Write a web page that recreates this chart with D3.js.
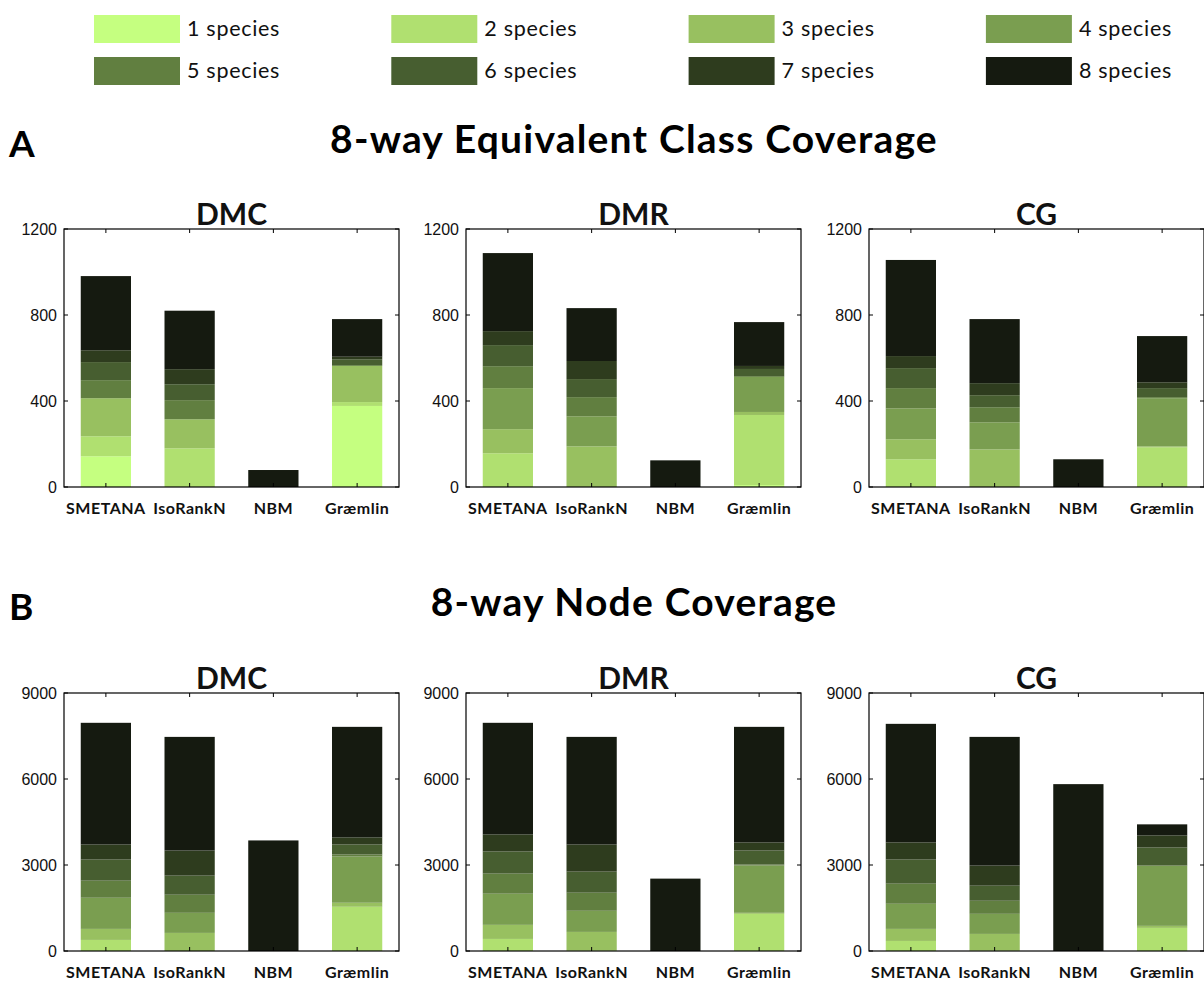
<!DOCTYPE html>
<html>
<head>
<meta charset="utf-8">
<script src="https://cdn.jsdelivr.net/npm/d3@7"></script>
<style>
  body { margin: 0; background: #fff; }
  svg { display: block; }
</style>
</head>
<body>
<svg id="chart" width="1204" height="981"></svg>
<script>
// Aligners compared and the species-count classes stacked in each bar
const methods = ["SMETANA", "IsoRankN", "NBM", "Græmlin"];
const speciesLabels = ["1 species", "2 species", "3 species", "4 species",
                       "5 species", "6 species", "7 species", "8 species"];
const speciesColors = ["#c5ff80", "#b0e070", "#98c060", "#7a9e50",
                       "#617f40", "#475e30", "#2e3c1e", "#151a10"];

// Equivalence classes covering k species (rows follow `methods`, columns k = 1..8)
const classDMC = [
  [143, 93, 177, 0, 84, 84, 55, 345],
  [0, 180, 135, 0, 89, 74, 70, 272],
  [0, 0, 0, 0, 0, 0, 0, 79],
  [377, 18, 168, 0, 4, 27, 12, 175]
];
const classDMR = [
  [0, 157, 112, 191, 102, 98, 65, 363],
  [0, 0, 189, 140, 89, 84, 84, 246],
  [0, 0, 0, 0, 0, 0, 0, 124],
  [9, 326, 14, 163, 4, 33, 14, 204]
];
const classCG = [
  [0, 129, 93, 144, 94, 93, 56, 447],
  [0, 0, 175, 126, 70, 56, 56, 298],
  [0, 0, 0, 0, 0, 0, 0, 129],
  [0, 185, 4, 224, 5, 42, 27, 215]
];

// Nodes covered by classes with k species
const nodeDMC = [
  [0, 386, 385, 1087, 596, 737, 526, 4243],
  [0, 0, 631, 701, 632, 666, 876, 3963],
  [0, 0, 0, 0, 0, 0, 0, 3857],
  [0, 1543, 140, 1613, 70, 351, 245, 3857]
];
const nodeDMR = [
  [0, 421, 491, 1087, 701, 771, 596, 3893],
  [0, 25, 641, 737, 631, 736, 947, 3752],
  [0, 0, 0, 0, 0, 0, 0, 2525],
  [0, 1297, 35, 1648, 35, 491, 281, 4032]
];
const nodeCG = [
  [0, 351, 420, 877, 701, 842, 596, 4137],
  [0, 25, 571, 701, 456, 526, 701, 4489],
  [0, 0, 0, 0, 0, 0, 0, 5821],
  [0, 806, 71, 2103, 0, 632, 420, 386]
];

const classTicks = [0, 400, 800, 1200];
const nodeTicks = [0, 3000, 6000, 9000];
const panelTitles = ["DMC", "DMR", "CG"];

const svg = d3.select("#chart");
const labelFont = "Lato, 'DejaVu Sans', sans-serif";
const tickFont = "'Liberation Sans', Arial, sans-serif";

// ---- legend ----
const legend = svg.append("g");
speciesLabels.forEach((lab, i) => {
  const col = i % 4, row = Math.floor(i / 4);
  const x = 94 + col * 297.3, y = 15 + row * 42;
  legend.append("rect")
    .attr("x", x).attr("y", y).attr("width", 86).attr("height", 28)
    .attr("fill", speciesColors[i]);
  legend.append("text")
    .attr("x", x + 93).attr("y", y + 21)
    .attr("font-family", labelFont).attr("font-size", 21.5)
    .attr("letter-spacing", 0.7)
    .attr("fill", "#111").text(lab);
});

// ---- section headers ----
function sectionHeader(letter, title, baseline) {
  svg.append("text").attr("x", 9).attr("y", baseline + 4)
    .attr("font-family", labelFont).attr("font-weight", "bold")
    .attr("font-size", 37).text(letter);
  svg.append("text").attr("x", 634).attr("y", baseline)
    .attr("text-anchor", "middle")
    .attr("font-family", labelFont).attr("font-weight", "bold")
    .attr("font-size", 39).attr("letter-spacing", 1.2).text(title);
}
sectionHeader("A", "8-way Equivalent Class Coverage", 153);
sectionHeader("B", "8-way Node Coverage", 616);

// ---- one stacked-bar panel ----
const panelLefts = [64, 466, 869];
const panelW = 335, panelH = 258;

function drawPanel(left, top, title, data, ticks) {
  const g = svg.append("g").attr("transform", `translate(${left},${top})`);
  const x = d3.scaleBand().domain(methods).range([0, panelW]).paddingInner(0.4).paddingOuter(0.2);
  const y = d3.scaleLinear().domain([0, ticks[ticks.length - 1]]).range([panelH, 0]);

  const rows = methods.map((m, i) => {
    const r = { method: m };
    speciesLabels.forEach((s, k) => { r[s] = data[i][k]; });
    return r;
  });
  const series = d3.stack().keys(speciesLabels)(rows);

  g.selectAll("g.layer").data(series).join("g")
    .attr("class", "layer")
    .attr("fill", (d, k) => speciesColors[k])
    .selectAll("rect").data(d => d).join("rect")
    .attr("x", d => x(d.data.method))
    .attr("width", x.bandwidth())
    .attr("y", d => y(d[1]))
    .attr("height", d => Math.max(0, y(d[0]) - y(d[1])));

  // frame
  g.append("rect").attr("x", 0).attr("y", 0).attr("width", panelW).attr("height", panelH)
    .attr("fill", "none").attr("stroke", "#000").attr("stroke-width", 1.2);

  // y ticks (inside, both sides) and labels
  const yAxis = g.append("g");
  ticks.forEach(t => {
    const yy = y(t);
    yAxis.append("line").attr("x1", 0).attr("x2", 4).attr("y1", yy).attr("y2", yy)
      .attr("stroke", "#000");
    yAxis.append("line").attr("x1", panelW - 4).attr("x2", panelW).attr("y1", yy).attr("y2", yy)
      .attr("stroke", "#000");
    yAxis.append("text").attr("x", -7).attr("y", yy).attr("dy", "0.36em")
      .attr("text-anchor", "end").attr("font-family", tickFont).attr("font-size", 16)
      .attr("fill", "#111").text(t);
  });

  // x ticks at category centres, top and bottom, plus bold labels
  methods.forEach(m => {
    const cx = x(m) + x.bandwidth() / 2;
    g.append("line").attr("x1", cx).attr("x2", cx).attr("y1", 0).attr("y2", 4).attr("stroke", "#000");
    g.append("line").attr("x1", cx).attr("x2", cx).attr("y1", panelH - 4).attr("y2", panelH).attr("stroke", "#000");
    g.append("text").attr("x", cx).attr("y", panelH + 27)
      .attr("text-anchor", "middle").attr("font-family", labelFont)
      .attr("font-weight", "bold").attr("font-size", 16).attr("letter-spacing", 0.5)
      .attr("fill", "#111").text(m);
  });

  g.append("text").attr("x", panelW / 2).attr("y", -4)
    .attr("text-anchor", "middle").attr("font-family", labelFont)
    .attr("font-weight", "bold").attr("font-size", 30).attr("fill", "#111").text(title);
}

const classData = [classDMC, classDMR, classCG];
const nodeData = [nodeDMC, nodeDMR, nodeCG];
panelLefts.forEach((lx, i) => {
  drawPanel(lx, 229, panelTitles[i], classData[i], classTicks);
  drawPanel(lx, 693, panelTitles[i], nodeData[i], nodeTicks);
});
</script>
</body>
</html>
